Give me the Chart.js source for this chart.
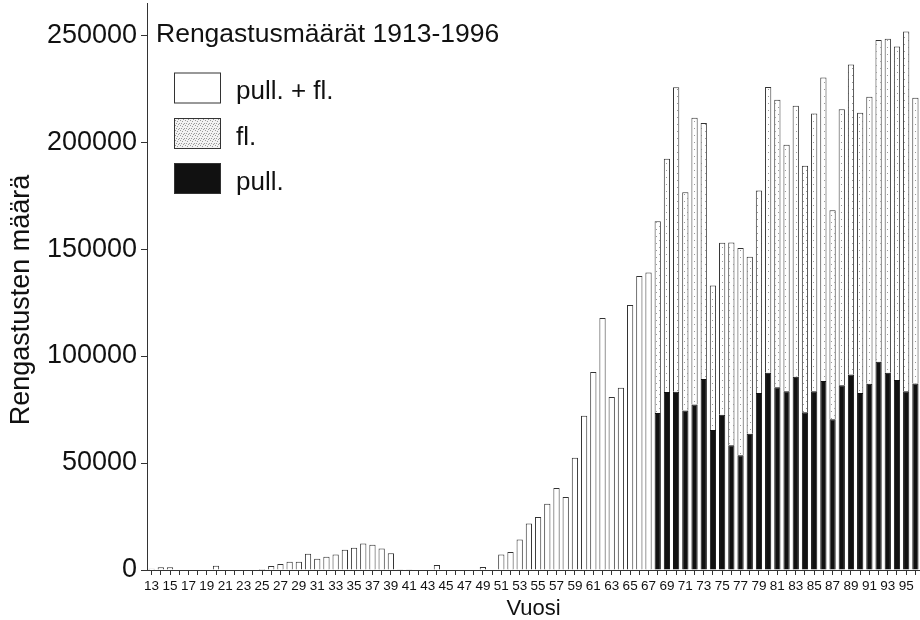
<!DOCTYPE html>
<html>
<head>
<meta charset="utf-8">
<script src="https://cdn.jsdelivr.net/npm/chart.js@4/dist/chart.umd.min.js"></script>
<style>
html,body{margin:0;padding:0;background:#fff;}
#wrap{width:920px;height:620px;position:relative;}
</style>
</head>
<body>
<div id="wrap"><canvas id="c" width="920" height="620"></canvas></div>
<script>
const FONT = "'Liberation Sans', Arial, Helvetica, sans-serif";

// Categories (years 1913-1996, two-digit labels)
const labels = ['13','14','15','16','17','18','19','20','21','22','23','24','25','26','27','28','29','30',
  '31','32','33','34','35','36','37','38','39','40','41','42','43','44','45','46','47','48','49','50',
  '51','52','53','54','55','56','57','58','59','60','61','62','63','64','65','66','67','68','69','70',
  '71','72','73','74','75','76','77','78','79','80','81','82','83','84','85','86','87','88','89','90',
  '91','92','93','94','95','96'];

// Total ringed (pull. + fl.) per year
const totalPullFl = [600,1300,1300,0,0,0,0,2000,0,0,0,0,500,1900,2800,3900,3900,7600,
  5300,6200,7200,9500,10400,12400,11800,10100,7800,300,300,0,0,2300,0,0,0,0,1400,0,
  7200,8400,14300,21700,24800,31000,38300,34100,52500,72100,92500,117800,80800,85200,123800,137400,139100,163000,192200,225600,
  176600,211400,208900,133000,152900,153100,150500,146400,177400,225700,219800,198700,217000,188900,213400,230200,168100,215300,236300,213700,
  221200,247700,248300,244700,251700,220700];

// Nestlings (pull.) from 1968 onwards
const pullStartLabel = '68';
const pullValues = [73400,83200,83300,74600,77300,89300,65400,72600,58300,53600,63700,82700,92200,85400,83600,
  90300,73700,83600,88300,70400,86300,91400,82700,87100,97300,92200,88800,83600,87200];

const yTickValues = [0,50000,100000,150000,200000,250000];
const chartTitle = 'Rengastusmäärät 1913-1996';
const yTitle = 'Rengastusten määrä';
const xTitle = 'Vuosi';
const seriesNames = ['pull. + fl.', 'fl.', 'pull.'];

const start = labels.indexOf(pullStartLabel);
const pullData = labels.map((l,i) => i >= start ? pullValues[i-start] : null);
const flData = labels.map((l,i) => i >= start ? totalPullFl[i] - pullValues[i-start] : null);
const totalOnly = labels.map((l,i) => i < start ? totalPullFl[i] : null);

// stipple pattern for "fl."
function makeStipple(size, bg, dots){
  const pc = document.createElement('canvas'); pc.width = size; pc.height = size;
  const p = pc.getContext('2d');
  p.fillStyle = bg; p.fillRect(0,0,size,size);
  p.fillStyle = '#9a9a9a';
  dots.forEach(d => p.fillRect(d[0], d[1], 1, 1));
  return document.getElementById('c').getContext('2d').createPattern(pc, 'repeat');
}
const barStipple = makeStipple(7, '#ffffff', [[1,2],[5,5]]);
const legendStipple = makeStipple(5, '#f2f2f2', [[0,0],[2,1],[4,3],[1,3],[3,4]]);

const EDGE = '#333';

const overlay = {
  id: 'overlay',
  afterDraw(chart){
    const ctx = chart.ctx;
    ctx.save();
    ctx.fillStyle = '#111';
    ctx.textAlign = 'left';
    ctx.textBaseline = 'alphabetic';
    ctx.font = `26.5px ${FONT}`;
    ctx.fillText(chartTitle, 156, 42);

    const items = [
      {label: seriesNames[0], fill: '#ffffff'},
      {label: seriesNames[1], fill: legendStipple},
      {label: seriesNames[2], fill: '#111111'}
    ];
    const tops = [73, 118.5, 163.5];
    ctx.font = `26px ${FONT}`;
    items.forEach((it, k) => {
      const y = tops[k];
      ctx.fillStyle = it.fill;
      ctx.fillRect(174.5, y, 46, 30);
      ctx.strokeStyle = EDGE; ctx.lineWidth = 1;
      ctx.strokeRect(174.5, y, 46, 30);
      ctx.fillStyle = '#111';
      ctx.fillText(it.label, 236, y + 26);
    });

    // y axis title
    ctx.translate(22, 300);
    ctx.rotate(-Math.PI/2);
    ctx.textAlign = 'center';
    ctx.textBaseline = 'middle';
    ctx.font = `27px ${FONT}`;
    ctx.fillText(yTitle, 0, 0);
    ctx.restore();
  }
};

new Chart(document.getElementById('c'), {
  type: 'bar',
  data: {
    labels: labels,
    datasets: [
      {label: seriesNames[2], data: pullData, backgroundColor: '#111', borderColor: '#111', borderWidth: 1},
      {label: seriesNames[1], data: flData, backgroundColor: barStipple, borderColor: EDGE, borderWidth: 1},
      {label: seriesNames[0], data: totalOnly, backgroundColor: '#fff', borderColor: EDGE, borderWidth: 1}
    ]
  },
  options: {
    responsive: false,
    animation: false,
    devicePixelRatio: 1,
    layout: {padding: {top: 3, left: 0, right: 0, bottom: 0}},
    datasets: {bar: {categoryPercentage: 1.0, barPercentage: 0.68, borderSkipped: 'bottom'}},
    plugins: {legend: {display: false}, tooltip: {enabled: false}, title: {display: false}},
    scales: {
      x: {
        stacked: true,
        grid: {display: true, drawOnChartArea: false, drawTicks: true, tickLength: 5, color: EDGE, offset: false},
        border: {display: true, color: EDGE, width: 1},
        ticks: {
          autoSkip: false, maxRotation: 0, minRotation: 0, padding: 3, color: '#111',
          font: {family: FONT, size: 13.5},
          callback: function(v, i){ return i % 2 === 0 ? this.getLabelForValue(v) : ''; }
        },
        title: {display: true, text: xTitle, color: '#111', font: {family: FONT, size: 22, lineHeight: 1}, padding: {top: 0, bottom: 0}},
        afterFit(scale){ scale.height = 50; scale.paddingLeft = 0; scale.paddingRight = 0; }
      },
      y: {
        stacked: true,
        min: 0, max: 265000,
        grid: {display: true, drawOnChartArea: false, drawTicks: true, tickLength: 6, color: EDGE},
        border: {display: true, color: EDGE, width: 1},
        ticks: {padding: 4, color: '#111', font: {family: FONT, size: 27}, callback: v => String(v)},
        afterBuildTicks(scale){ scale.ticks = yTickValues.map(v => ({value: v})); },
        afterFit(scale){ scale.width = 147; scale.paddingTop = 0; scale.paddingBottom = 0; }
      }
    }
  },
  plugins: [overlay]
});
</script>
</body>
</html>
